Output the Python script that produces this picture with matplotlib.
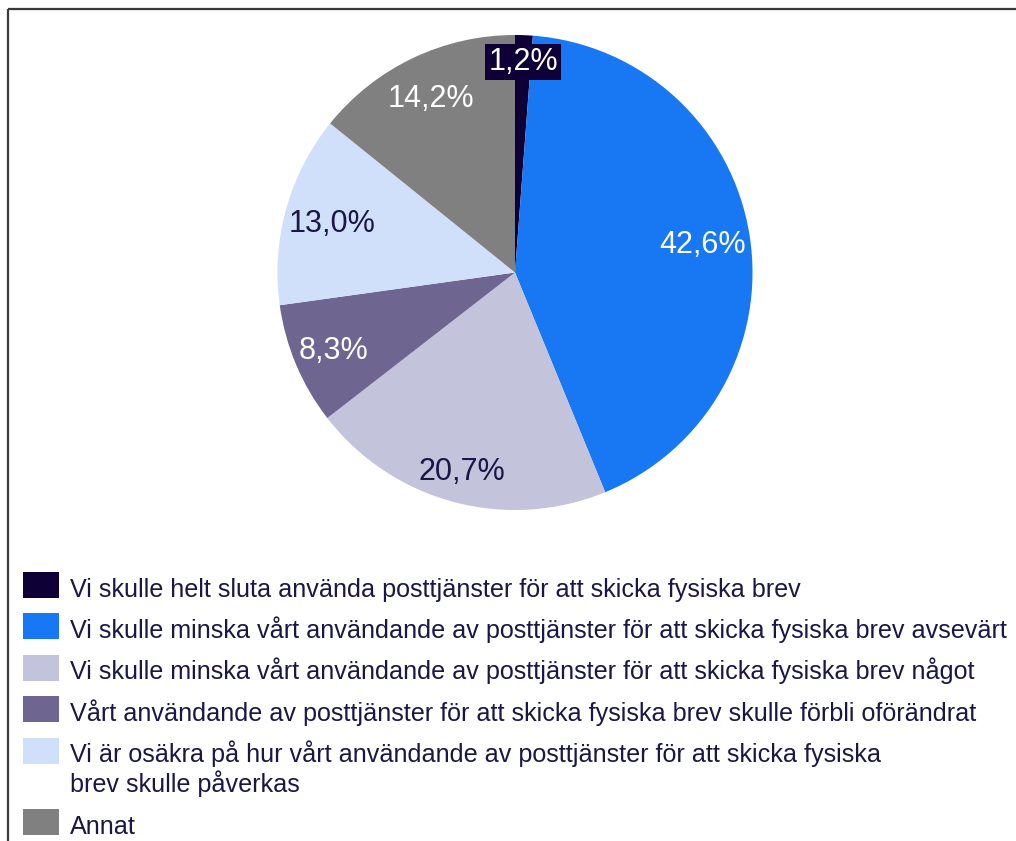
import numpy as np
import matplotlib
matplotlib.use('Agg')
import matplotlib.pyplot as plt
from matplotlib.patches import Rectangle

plt.rcParams['font.family'] = ['Liberation Sans', 'DejaVu Sans']

# data
labels = [
    'Vi skulle helt sluta använda posttjänster för att skicka fysiska brev',
    'Vi skulle minska vårt användande av posttjänster för att skicka fysiska brev avsevärt',
    'Vi skulle minska vårt användande av posttjänster för att skicka fysiska brev något',
    'Vårt användande av posttjänster för att skicka fysiska brev skulle förbli oförändrat',
    'Vi är osäkra på hur vårt användande av posttjänster för att skicka fysiska\nbrev skulle påverkas',
    'Annat',
]
shares = [1.2, 42.6, 20.7, 8.3, 13.0, 14.2]
colors = ['#0e0036', '#1877f2', '#c3c3dc', '#6e6690', '#d1e0fa', '#808080']
label_colors = ['white', 'white', '#1a1646', 'white', '#1a1646', 'white']
label_r = [0.895, 0.80, 0.86, 0.83, 0.80, 0.82]

TEXT = '#1a1646'
W, H = 1016, 841

fig = plt.figure(figsize=(W / 100, H / 100), dpi=100)

# overlay axes in pixel coordinates for frame and legend
bg = fig.add_axes([0, 0, 1, 1])
bg.set_xlim(0, W)
bg.set_ylim(H, 0)
bg.axis('off')
bg.plot([8, W], [9, 9], color='#3a3a3a', lw=1.6, solid_capstyle='butt')
bg.plot([8, 8], [9, H], color='#3a3a3a', lw=1.6, solid_capstyle='butt')

# pie
cx, cy, r = 515, 272.5, 237.5
ax = fig.add_axes([(cx - r) / W, (H - cy - r) / H, 2 * r / W, 2 * r / H])
wedges, _ = ax.pie(shares, colors=colors, startangle=90, counterclock=False,
                   wedgeprops=dict(linewidth=0))
ax.set_xlim(-1, 1)
ax.set_ylim(-1, 1)
ax.axis('off')

for i, w in enumerate(wedges):
    ang = np.deg2rad((w.theta1 + w.theta2) / 2)
    txt = f'{shares[i]:.1f}%'.replace('.', ',')
    kw = {}
    if i == 0:
        kw['bbox'] = dict(boxstyle='square,pad=0.1', fc=colors[0], ec='none')
    ax.text(label_r[i] * np.cos(ang), label_r[i] * np.sin(ang) - 0.008, txt,
            ha='center', va='center', fontsize=22, color=label_colors[i], **kw)

# legend
y = 585
for i, lab in enumerate(labels):
    bg.add_patch(Rectangle((23, y - 13), 36, 26, facecolor=colors[i], edgecolor='none'))
    lines = lab.split('\n')
    for j, line in enumerate(lines):
        bg.text(70, y + 11.5 + j * 29.5, line, fontsize=18.05, color=TEXT,
                ha='left', va='baseline')
    y += 41.4 + 30.5 * (len(lines) - 1)

fig.savefig('out.png', dpi=100)
